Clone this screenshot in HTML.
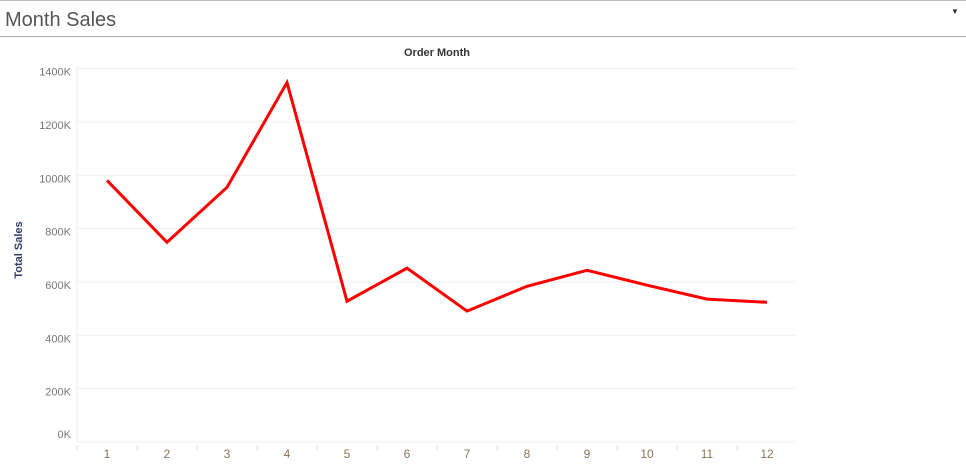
<!DOCTYPE html>
<html><head><meta charset="utf-8"><style>
body{margin:0;width:966px;height:470px;background:#fff;overflow:hidden;font-family:"Liberation Sans",sans-serif}
#hdr{position:absolute;left:0;top:0;width:966px;height:37px;border-top:1px solid #bbb;border-bottom:1px solid #aaa;box-sizing:border-box}
#title{position:absolute;left:5px;top:8px;font-size:20px;color:#555}
#dd{position:absolute;left:951px;top:6px;font-size:8px;color:#333}
</style></head><body>
<div id="hdr">
<div id="title">Month Sales</div>
<div id="dd">▼</div>
</div>
<svg id="chart" width="966" height="470" style="position:absolute;left:0;top:0"></svg>
<script>
const months=["1","2","3","4","5","6","7","8","9","10","11","12"];
const sales=[981,749,955,1348,528,652,491,584,644,588,536,524];
const yTicks=[0,200,400,600,800,1000,1200,1400];
const yTickLabels=["0K","200K","400K","600K","800K","1000K","1200K","1400K"];
const svg=document.getElementById('chart');
const NS='http://www.w3.org/2000/svg';
const L=77,R=795,Y0=442,Ytop=68.7,Ymax=1400,step=60;
const x=i=>L+30+i*step;
const y=v=>Y0-(v/Ymax)*(Y0-Ytop);
function mk(t,a){const e=document.createElementNS(NS,t);for(const k in a)e.setAttribute(k,a[k]);svg.appendChild(e);return e;}
yTicks.forEach((v,i)=>{
 const g=mk('line',{x1:L,x2:R,y1:y(v),y2:y(v),stroke:'#efefef','stroke-width':1});
 
 
 const t=mk('text',{x:71,y:(v===0?y(v)-4:y(v)+7),'text-anchor':'end','font-size':11,fill:'#777','font-family':'Liberation Sans'});
 t.textContent=yTickLabels[i];
 
 
});
const ax=mk('line',{x1:L,x2:L,y1:66,y2:Y0,stroke:'#eee'});


months.forEach((m,i)=>{
 const tk=mk('line',{x1:L+i*step,x2:L+i*step,y1:Y0+3,y2:Y0+8,stroke:'#ddd'});
 
 
 const t=mk('text',{x:x(i),y:458,'text-anchor':'middle','font-size':12,fill:'#8a7454','font-family':'Liberation Sans'});
 t.textContent=m;
 
 
});
const p=mk('polyline',{points:sales.map((v,i)=>x(i)+','+y(v)).join(' '),fill:'none',stroke:'#ff0000','stroke-width':3,'stroke-linejoin':'miter'});


const xt=mk('text',{x:437,y:56,'text-anchor':'middle','font-size':11,'font-weight':'bold',fill:'#333','font-family':'Liberation Sans'});
xt.textContent='Order Month';


const yt=mk('text',{x:0,y:0,'text-anchor':'middle','font-size':11,'font-weight':'bold',fill:'#2c3e66','font-family':'Liberation Sans',transform:'translate(22,250) rotate(-90)'});
yt.textContent='Total Sales';


</script>
</body></html>
